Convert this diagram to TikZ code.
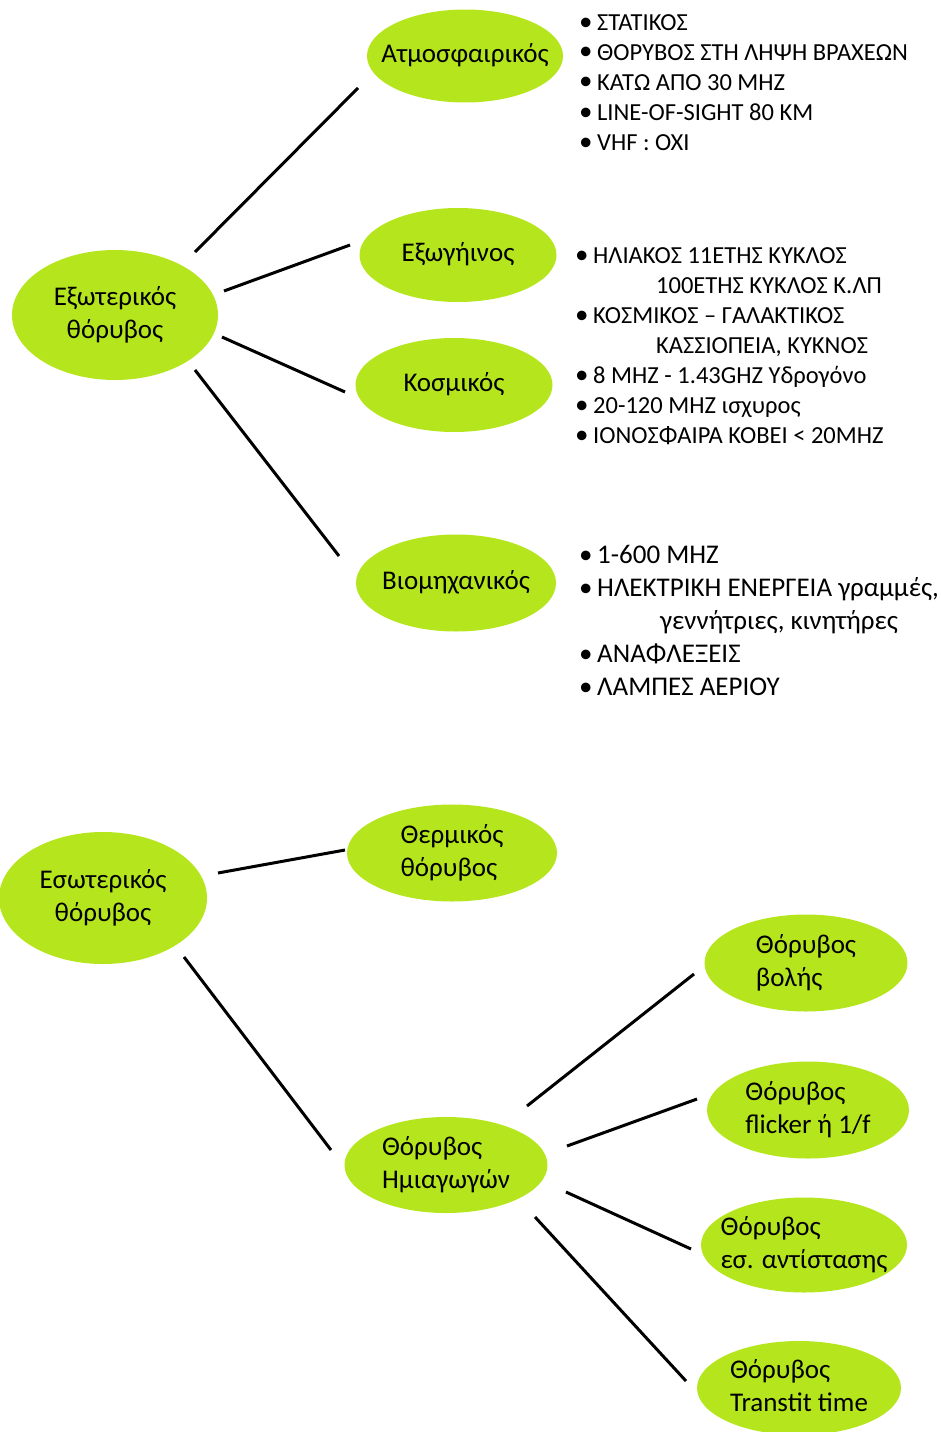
\documentclass[tikz,border=0pt]{standalone}
\usepackage{fontspec}
\setmainfont{Carlito}
\usetikzlibrary{shapes.geometric}
\definecolor{leaf}{RGB}{181,230,29}
\tikzset{
  bubble/.style={ellipse, fill=leaf, draw=none, inner sep=0pt,
    font=\fontsize{27}{33}\selectfont},
  link/.style={line width=3pt, black},
  notes/.style={anchor=base west, inner sep=0pt, font=\fontsize{24.5}{30}\selectfont},
}
% text that may run past the ellipse without widening it
\newcommand{\midtext}[1]{\makebox[0pt][c]{\begin{tabular}{@{}c@{}}#1\end{tabular}}}
\newcommand{\lefttext}[1]{\makebox[0pt][c]{\begin{tabular}{@{}l@{}}#1\end{tabular}}}
\newcommand{\bul}{\makebox[18pt][l]{\scalebox{1.1}{•}}}
\newcommand{\smallbul}{\makebox[18pt][l]{•}}
\newcommand{\cont}{\hspace*{81pt}}
\begin{document}
\begin{tikzpicture}[x=1pt,y=-1pt]
\useasboundingbox (0,0) rectangle (940,1432);

% external noise branch
\node[bubble, minimum width=206pt, minimum height=130pt] (ext) at (115,315) {\midtext{Εξωτερικός\\θόρυβος}};
\node[bubble, minimum width=196pt, minimum height=93pt] (atm) at (465,56) {\midtext{Ατμοσφαιρικός}};
\node[bubble, minimum width=197pt, minimum height=94pt] (exo) at (458,255) {\midtext{Εξωγήινος}};
\node[bubble, minimum width=197pt, minimum height=94pt] (cos) at (454,385) {\midtext{Κοσμικός}};
\node[bubble, minimum width=200pt, minimum height=97pt] (ind) at (456,583) {\midtext{Βιομηχανικός}};

% internal noise branch
\node[bubble, minimum width=208pt, minimum height=132pt] (int) at (103,898) {\midtext{Εσωτερικός\\θόρυβος}};
\node[bubble, minimum width=210pt, minimum height=97pt] (therm) at (452,853) {\lefttext{Θερμικός\\θόρυβος}};
\node[bubble, minimum width=203pt, minimum height=96pt] (semi) at (446,1165) {\lefttext{Θόρυβος\\Ημιαγωγών}};
\node[bubble, minimum width=203pt, minimum height=97pt] (shot) at (806,963) {\lefttext{Θόρυβος\\βολής}};
\node[bubble, minimum width=202pt, minimum height=97pt] (flick) at (808,1110) {\lefttext{Θόρυβος\\flicker ή 1/f}};
\node[bubble, minimum width=206pt, minimum height=95pt] (res) at (804,1245) {\lefttext{Θόρυβος\\εσ. αντίστασης}};
\node[bubble, minimum width=204pt, minimum height=94pt] (trans) at (799,1388) {\lefttext{Θόρυβος\\Transtit time}};

% connector end points
\coordinate (e1a) at (195,252); \coordinate (e1b) at (358,88);
\coordinate (e2a) at (224,291); \coordinate (e2b) at (350,245);
\coordinate (e3a) at (222,337); \coordinate (e3b) at (345,392);
\coordinate (e4a) at (195,370); \coordinate (e4b) at (339,556);
\coordinate (i1a) at (218,873); \coordinate (i1b) at (345,850);
\coordinate (i2a) at (184,957); \coordinate (i2b) at (331,1150);
\coordinate (s1a) at (527,1106); \coordinate (s1b) at (694,974);
\coordinate (s2a) at (567,1146); \coordinate (s2b) at (697,1099);
\coordinate (s3a) at (566,1192); \coordinate (s3b) at (691,1249);
\coordinate (s4a) at (535,1217); \coordinate (s4b) at (686,1381);

\draw[link] (e1a) -- (e1b);
\draw[link] (e2a) -- (e2b);
\draw[link] (e3a) -- (e3b);
\draw[link] (e4a) -- (e4b);
\draw[link] (i1a) -- (i1b);
\draw[link] (i2a) -- (i2b);
\draw[link] (s1a) -- (s1b);
\draw[link] (s2a) -- (s2b);
\draw[link] (s3a) -- (s3b);
\draw[link] (s4a) -- (s4b);

% notes
\node[notes] (n1) at (579,30) {\begin{tabular}[t]{@{}l@{}}
\bul ΣΤΑΤΙΚΟΣ\\
\bul ΘΟΡΥΒΟΣ ΣΤΗ ΛΗΨΗ ΒΡΑΧΕΩΝ\\
\bul ΚΑΤΩ ΑΠΟ 30 ΜΗΖ\\
\bul LINE-OF-SIGHT 80 KM\\
\bul VHF : OXI
\end{tabular}};

\node[notes] (n2) at (575,263) {\begin{tabular}[t]{@{}l@{}}
\bul ΗΛΙΑΚΟΣ 11ΕΤΗΣ ΚΥΚΛΟΣ\\
\cont 100ΕΤΗΣ ΚΥΚΛΟΣ Κ.ΛΠ\\
\bul ΚΟΣΜΙΚΟΣ – ΓΑΛΑΚΤΙΚΟΣ\\
\cont ΚΑΣΣΙΟΠΕΙΑ, ΚΥΚΝΟΣ\\
\bul 8 ΜΗΖ - 1.43GHZ Υδρογόνο\\
\bul 20-120 ΜΗΖ ισχυρος\\
\bul ΙΟΝΟΣΦΑΙΡΑ ΚΟΒΕΙ < 20ΜΗΖ
\end{tabular}};

\node[notes, font=\fontsize{27}{33}\selectfont] (n3) at (579,563) {\begin{tabular}[t]{@{}l@{}}
\smallbul 1-600 MHZ\\
\smallbul ΗΛΕΚΤΡΙΚΗ ΕΝΕΡΓΕΙΑ γραμμές,\\
\cont γεννήτριες, κινητήρες\\
\smallbul ΑΝΑΦΛΕΞΕΙΣ\\
\smallbul ΛΑΜΠΕΣ ΑΕΡΙΟΥ
\end{tabular}};
\end{tikzpicture}
\end{document}
